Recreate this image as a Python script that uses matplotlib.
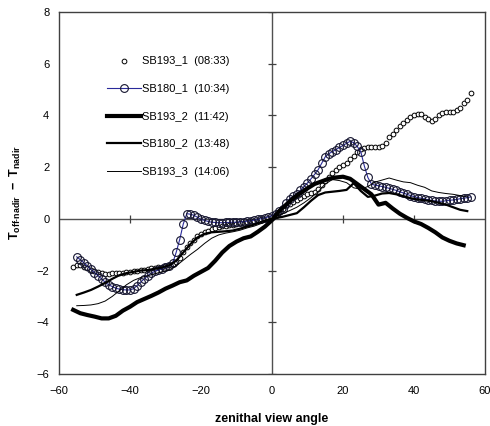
import numpy as np
import matplotlib
matplotlib.use('Agg')
import matplotlib.pyplot as plt

plt.rcParams['font.family'] = ['Liberation Sans', 'DejaVu Sans']
plt.rcParams['mathtext.fontset'] = 'custom'
plt.rcParams['mathtext.rm'] = 'Liberation Sans'
plt.rcParams['mathtext.bf'] = 'Liberation Sans:bold'

####################################################################################################
# data
####################################################################################################
x_193_1 = np.arange(-56, 57, 1)
y_193_1 = [-1.85, -1.80, -1.78, -1.85, -1.92, -1.98, -2.03, -2.07, -2.10, -2.12,
           -2.12, -2.10, -2.10, -2.08, -2.08, -2.06, -2.05, -2.03, -2.00, -1.98,
           -1.97, -1.95, -1.92, -1.90, -1.87, -1.85, -1.82, -1.80, -1.75, -1.68,
           -1.50, -1.30, -1.10, -0.95, -0.80, -0.68, -0.60, -0.52, -0.46, -0.40,
           -0.36, -0.32, -0.29, -0.26, -0.24, -0.22, -0.20, -0.17, -0.15, -0.12,
           -0.10, -0.08, -0.05, -0.02, 0.00, 0.03, 0.06, 0.15, 0.28, 0.38,
           0.48, 0.58, 0.66, 0.73, 0.80, 0.88, 0.95, 1.00, 1.05, 1.15,
           1.30, 1.45, 1.62, 1.78, 1.90, 2.00, 2.08, 2.17, 2.30, 2.45,
           2.60, 2.70, 2.75, 2.77, 2.77, 2.78, 2.79, 2.80, 2.95, 3.15,
           3.30, 3.45, 3.60, 3.72, 3.82, 3.95, 4.03, 4.06, 4.05, 3.95,
           3.85, 3.80, 3.88, 4.00, 4.10, 4.15, 4.15, 4.15, 4.20, 4.30,
           4.50, 4.60, 4.85]

x_180_1 = np.arange(-55, 57, 1)
y_180_1 = [-1.47, -1.58, -1.70, -1.82, -1.95, -2.08, -2.20, -2.32, -2.45, -2.55,
           -2.62, -2.68, -2.72, -2.74, -2.75, -2.75, -2.70, -2.58, -2.45, -2.32,
           -2.20, -2.10, -2.03, -1.98, -1.93, -1.88, -1.82, -1.72, -1.30, -0.80,
           -0.20, 0.20, 0.18, 0.14, 0.06, -0.02, -0.06, -0.10, -0.13, -0.14,
           -0.15, -0.15, -0.14, -0.14, -0.13, -0.13, -0.12, -0.11, -0.09, -0.07,
           -0.05, -0.02, 0.01, 0.04, 0.08, 0.12, 0.20, 0.30, 0.40, 0.60,
           0.78, 0.88, 0.98, 1.10, 1.25, 1.39, 1.55, 1.72, 1.90, 2.15,
           2.40, 2.52, 2.60, 2.68, 2.76, 2.84, 2.92, 3.00, 2.95, 2.80,
           2.60, 2.05, 1.60, 1.35, 1.30, 1.28, 1.25, 1.22, 1.18, 1.14,
           1.10, 1.05, 1.00, 0.95, 0.90, 0.86, 0.82, 0.80, 0.77, 0.74,
           0.71, 0.69, 0.68, 0.68, 0.70, 0.72, 0.73, 0.75, 0.78, 0.80,
           0.82, 0.85]

x_193_2 = np.arange(-56, 55, 2)
y_193_2 = [-3.52, -3.65, -3.72, -3.78, -3.85, -3.85, -3.75, -3.55, -3.40, -3.22,
           -3.10, -2.98, -2.85, -2.70, -2.58, -2.45, -2.38, -2.20, -2.05, -1.90,
           -1.62, -1.30, -1.05, -0.88, -0.75, -0.68, -0.50, -0.30, -0.05, 0.30,
           0.55, 0.80, 1.00, 1.18, 1.35, 1.45, 1.55, 1.60, 1.63, 1.55,
           1.35, 1.15, 0.95, 0.55, 0.62, 0.40, 0.20, 0.04, -0.10, -0.20,
           -0.35, -0.52, -0.72, -0.85, -0.95, -1.02]

x_180_2 = np.arange(-55, 56, 2)
y_180_2 = [-2.94, -2.85, -2.75, -2.62, -2.48, -2.32, -2.18, -2.10, -2.05, -2.00,
           -1.98, -1.93, -1.88, -1.80, -1.62, -1.30, -0.98, -0.72, -0.58, -0.52,
           -0.50, -0.48, -0.45, -0.38, -0.30, -0.22, -0.12, -0.03, 0.03, 0.08,
           0.15, 0.22, 0.45, 0.70, 0.92, 1.02, 1.05, 1.08, 1.12, 1.38,
           1.08, 0.85, 0.90, 0.98, 1.00, 0.95, 0.88, 0.80, 0.75, 0.72,
           0.68, 0.62, 0.55, 0.45, 0.35, 0.30]

x_193_3 = np.arange(-55, 56, 2)
y_193_3 = [-3.36, -3.35, -3.33, -3.28, -3.18, -3.00, -2.78, -2.55, -2.38, -2.27,
           -2.20, -2.12, -2.05, -1.98, -1.82, -1.60, -1.38, -1.18, -0.95, -0.75,
           -0.62, -0.55, -0.50, -0.44, -0.35, -0.28, -0.18, -0.05, 0.08, 0.20,
           0.32, 0.45, 0.62, 0.82, 1.05, 1.35, 1.52, 1.48, 1.40, 1.20,
           1.15, 1.25, 1.42, 1.50, 1.58, 1.50, 1.43, 1.40, 1.30, 1.22,
           1.08, 1.02, 0.98, 0.95, 0.90, 0.85]

x_ticks = [-60, -40, -20, 0, 20, 40, 60]
y_ticks = [-6, -4, -2, 0, 2, 4, 6, 8]

####################################################################################################
# plot
####################################################################################################
fig = plt.figure(figsize=(4.9, 4.26), dpi=100)
ax = fig.add_axes([0.1204, 0.1221, 0.8694, 0.8497])

ax.plot(x_193_1, y_193_1, linestyle='none', marker='o', markersize=3.4,
        markerfacecolor='white', markeredgecolor='black', markeredgewidth=0.7,
        label='SB193_1  (08:33)')
ax.plot(x_180_1, y_180_1, color='#2a2a9a', linewidth=0.8, marker='o', markersize=5.6,
        markerfacecolor='none', markeredgecolor='#151530', markeredgewidth=0.8,
        label='SB180_1  (10:34)')
ax.plot(x_193_2, y_193_2, color='black', linewidth=3.0, label='SB193_2  (11:42)')
ax.plot(x_180_2, y_180_2, color='black', linewidth=1.6, label='SB180_2  (13:48)')
ax.plot(x_193_3, y_193_3, color='black', linewidth=0.7, label='SB193_3  (14:06)')

# axis lines through the origin, with their tick marks
ax.axhline(0, color='#505050', linewidth=1.0, zorder=0)
ax.axvline(0, color='#505050', linewidth=1.0, zorder=0)
inner_x = [t for t in x_ticks if t not in (-60, 0, 60)]
inner_y = [t for t in y_ticks if t not in (0,)]
ax.plot(inner_x, np.zeros(len(inner_x)), linestyle='none', marker='|', markersize=6,
        markeredgewidth=0.9, color='#404040', zorder=0)
ax.plot(np.zeros(len(inner_y)), inner_y, linestyle='none', marker='_', markersize=6,
        markeredgewidth=0.9, color='#404040', zorder=0)

ax.set_xlim(-60, 60)
ax.set_ylim(-6, 8)
ax.set_xticks(x_ticks)
ax.set_yticks(y_ticks)
ax.tick_params(length=0, labelsize=8)
ax.tick_params(axis='x', pad=9)
ax.tick_params(axis='y', pad=7)
for s in ax.spines.values():
    s.set_color('#404040')
    s.set_linewidth(1.0)

ax.set_xlabel('zenithal view angle', fontsize=9, fontweight='bold', labelpad=12)
ax.set_ylabel(r'$\mathbf{T_{off\text{-}nadir}\ -\ T_{nadir}}$', fontsize=9, labelpad=10)

ax.legend(loc='upper left', bbox_to_anchor=(0.09, 0.905), frameon=False, fontsize=8,
          handlelength=3.0, handletextpad=0.1, labelspacing=1.58, numpoints=1)

fig.savefig('out.png', dpi=100)
